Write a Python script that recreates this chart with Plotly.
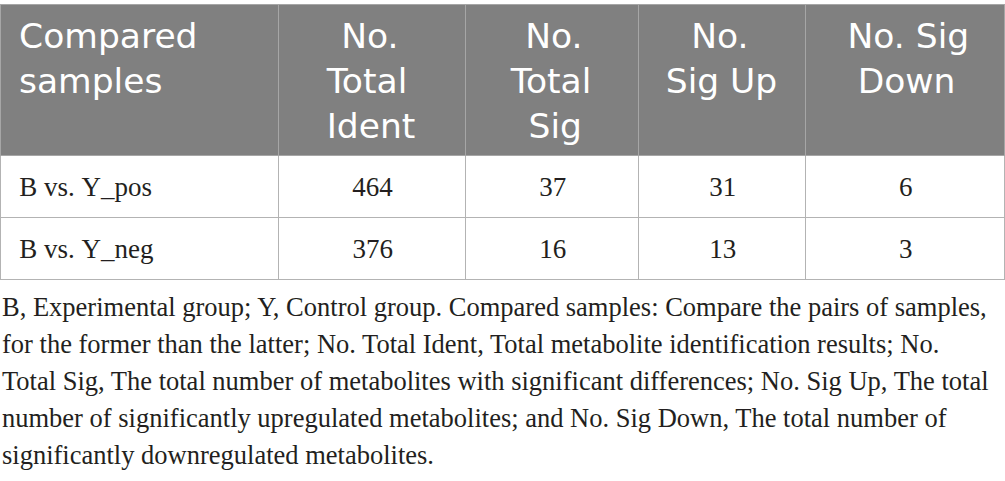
import plotly.graph_objects as go

# table content
headers = ["Compared samples", "No. Total Ident", "No. Total Sig", "No. Sig Up", "No. Sig Down"]
samples = ["B vs. Y_pos", "B vs. Y_neg"]
total_ident = [464, 376]
total_sig = [37, 16]
sig_up = [31, 13]
sig_down = [6, 3]

caption_lines = [
    "B, Experimental group; Y, Control group. Compared samples: Compare the pairs of samples,",
    "for the former than the latter; No. Total Ident, Total metabolite identification results; No.",
    "Total Sig, The total number of metabolites with significant differences; No. Sig Up, The total",
    "number of significantly upregulated metabolites; and No. Sig Down, The total number of",
    "significantly downregulated metabolites.",
]

W, H = 1005, 481
NB = "\u00a0"
THIN = "\u2009"
HAIR = "\u200a"
UP = "<sup>" + NB + "</sup>"  # raised blank: pushes the first line down a little

# header lines as in the picture; the short lines get some padding so each
# line sits centred (plotly keeps the lines of a cell flush to each other)
header_lines = [
    [UP + HAIR + "Compared", NB + "samples"],
    [UP + THIN + "No.", "Total", "Ident"],
    [UP + THIN + "No.", "Total", NB + THIN + "Sig"],
    [NB + UP + THIN + "No.", "Sig Up"],
    [UP + "No. Sig", NB + THIN + "Down"],
]
header_text = ["<br>".join(h) for h in header_lines]

# a tiny raised blank makes the text box taller on top, so the numbers sit lower in the row
LIFT = "<sup><sup><sup>" + NB + "</sup></sup></sup>"


def body(v):
    return LIFT + str(v).replace(" ", NB)


fig = go.Figure(go.Table(
    columnwidth=[278, 187, 173, 167, 199],
    header=dict(
        values=header_text,
        fill_color="#808080",
        line_color="#a6a6a6",
        align=["left", "center", "center", "center", "center"],
        font=dict(family="DejaVu Sans", size=34.5, color="white"),
        height=151,
    ),
    cells=dict(
        values=[[body(NB + HAIR + s) for s in samples]] +
               [[body(v) for v in col] for col in [total_ident, total_sig, sig_up, sig_down]],
        fill_color="white",
        line_color="#b3b3b3",
        align=["left", "center", "center", "center", "center"],
        font=dict(family="Liberation Serif", size=27, color="#231f20"),
        height=62,
    ),
    domain=dict(x=[0, 1], y=[0, 1]),
))

# caption below the table, one annotation per line
for i, line in enumerate(caption_lines):
    fig.add_annotation(
        text=line, xref="paper", yref="paper",
        x=0, y=1 - (324 - 4 + i * 37) / (H - 4),
        xanchor="left", yanchor="bottom", showarrow=False, align="left",
        font=dict(family="Liberation Serif", size=26.5, color="#231f20"),
    )

fig.update_layout(
    width=W, height=H,
    margin=dict(l=0, r=1, t=4, b=0),
    paper_bgcolor="white",
)

fig.write_html("out.html", config={"displayModeBar": False},
               post_script="document.body.style.margin='0';")
